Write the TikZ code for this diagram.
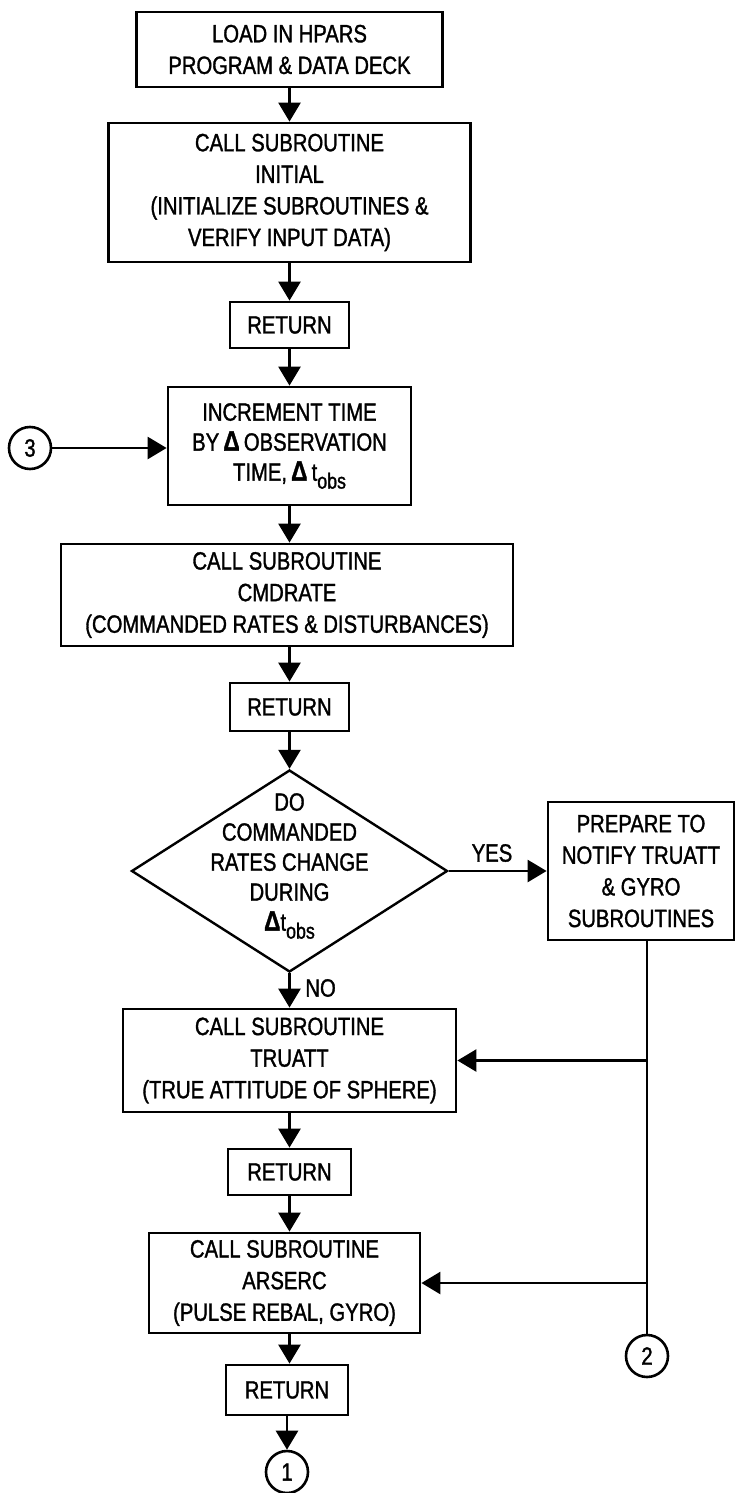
\documentclass[tikz,border=0pt]{standalone}
\usepackage{fontspec}
\setmainfont[FakeStretch=0.81,FakeBold=1.3]{Liberation Sans}
\usetikzlibrary{shapes.geometric,arrows.meta}
\newcommand\tobs{t\raisebox{-0.6ex}{\fontsize{11}{11}\selectfont obs}}
\newcommand\dlt{{\fontsize{14}{14}\selectfont\bfseries Δ}}
\begin{document}
\begin{tikzpicture}[x=0.5pt,y=-0.5pt,
  every node/.style={font=\fontsize{12.5}{15.8}\selectfont},
  box/.style={draw, rectangle, line width=1.4pt, align=center, inner sep=0pt},
  conn/.style={line width=1.3pt, -{Triangle[length=9.5pt,width=11pt]}},
  wire/.style={line width=1.3pt},
  conncirc/.style={draw, circle, line width=1.3pt, minimum size=21pt, inner sep=0pt, font=\fontsize{12.5}{12.5}\selectfont},
  lbl/.style={font=\fontsize{12.5}{14}\selectfont, inner sep=0pt}]
\useasboundingbox (0,0) rectangle (735,1493);
\fill[white] (0,0) rectangle (735,1493);

\node[box, minimum width=153pt, minimum height=37.5pt] (load) at (289.5,49.5) {LOAD IN HPARS\\PROGRAM \& DATA DECK};
\node[box, minimum width=181pt, minimum height=69.5pt] (init) at (289.5,192.5) {CALL SUBROUTINE\\INITIAL\\(INITIALIZE SUBROUTINES \&\\VERIFY INPUT DATA)};
\node[box, minimum width=59.5pt, minimum height=23pt] (ret1) at (289.5,325) {RETURN};
\node[box, minimum width=121.5pt, minimum height=59pt, font=\fontsize{12.5}{15}\selectfont] (incr) at (289.5,446) {INCREMENT TIME\\BY\,\dlt\,OBSERVATION\\TIME,\,\dlt\,\tobs};
\node[box, minimum width=226pt, minimum height=51pt] (cmd) at (287,595) {CALL SUBROUTINE\\CMDRATE\\(COMMANDED RATES \& DISTURBANCES)};
\node[box, minimum width=59.5pt, minimum height=24pt] (ret2) at (289.5,707) {RETURN};
\node[draw, diamond, line width=1.2pt, minimum width=158pt, minimum height=101pt, inner sep=0pt] (dec) at (289.5,871) {};
\node[align=center, font=\fontsize{12.5}{15}\selectfont] (dectext) at (289.5,866) {DO\\COMMANDED\\RATES CHANGE\\DURING\\\dlt\tobs};
\node[box, minimum width=93pt, minimum height=69pt] (prep) at (641,871) {PREPARE TO\\NOTIFY TRUATT\\\& GYRO\\SUBROUTINES};
\node[box, minimum width=166.5pt, minimum height=51.5pt] (tru) at (289.5,1060.5) {CALL SUBROUTINE\\TRUATT\\(TRUE ATTITUDE OF SPHERE)};
\node[box, minimum width=61.5pt, minimum height=23pt] (ret3) at (289.5,1172) {RETURN};
\node[box, minimum width=135.5pt, minimum height=50pt] (ars) at (284.5,1283) {CALL SUBROUTINE\\ARSERC\\(PULSE REBAL, GYRO)};
\node[box, minimum width=61pt, minimum height=25pt] (ret4) at (287,1390) {RETURN};
\node[conncirc] (c1) at (287,1472) {1};
\node[conncirc] (c2) at (647,1356) {2};
\node[conncirc] (c3) at (30,448) {3};

\node[lbl] (yes) at (492,853) {YES};
\node[lbl, anchor=west] (no) at (305,988) {NO};

\draw[conn] (load.south) -- (init.north);
\draw[conn] (init.south) -- (ret1.north);
\draw[conn] (ret1.south) -- (incr.north);
\draw[conn] (c3.east) -- (c3.east -| incr.west);
\draw[conn] (incr.south) -- (incr.south |- cmd.north);
\draw[conn] (incr.south |- cmd.south) -- (ret2.north);
\draw[conn] (ret2.south) -- (dec.north);
\draw[conn] (dec.east) -- (prep.west);
\draw[conn] (dec.south) -- (tru.north);
\draw[conn] (tru.south) -- (ret3.north);
\draw[conn] (ret3.south) -- (ret3.south |- ars.north);
\draw[conn] (ret3.south |- ars.south) -- (ret3.south |- ret4.north);
\draw[conn] (ret4.south) -- (c1.north);
\coordinate (j1) at (c2 |- tru.east);
\coordinate (j2) at (c2 |- ars.east);
\draw[wire] (c2 |- prep.south) -- (c2.north);
\draw[conn] (j1) -- (tru.east);
\draw[conn] (j2) -- (ars.east);
\end{tikzpicture}
\end{document}
